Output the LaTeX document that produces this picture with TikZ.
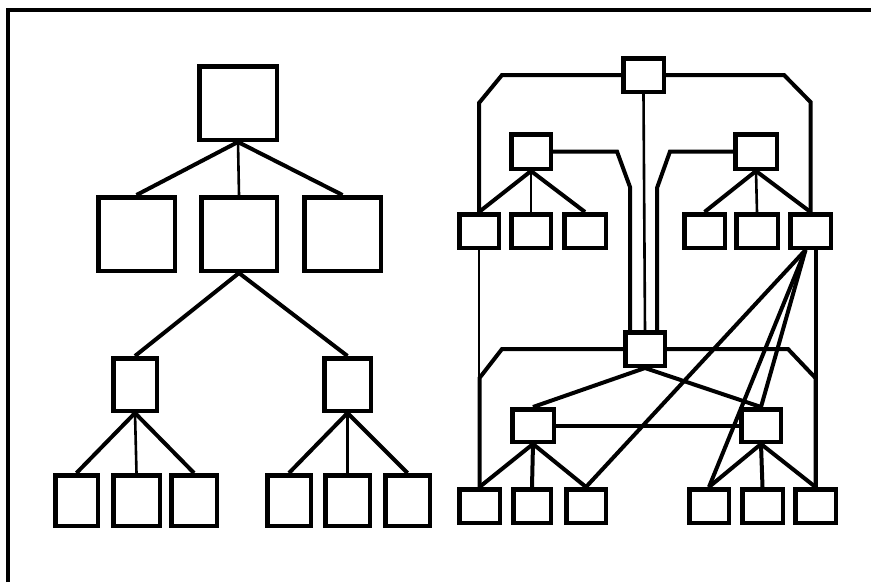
\documentclass[tikz,border=0pt]{standalone}
\begin{document}
\begin{tikzpicture}[x=1pt,y=-1pt,
  bx/.style={draw, line width=4.5pt, inner sep=0pt, rectangle},
  cn/.style={line width=4pt, line join=miter},
  thin/.style={line width=2.6pt},
  frm/.style={line width=3.2pt}]
\useasboundingbox (0,0) rectangle (871,582);
\newcommand{\mybox}[5]{\node[bx, minimum width={(#4-#2)*1pt-4.5pt}, minimum height={(#5-#3)*1pt-4.5pt}] (#1) at ({(#2+#4)/2},{(#3+#5)/2}) {};}
% outer frame (top and left)
\draw[frm] (8,582) -- (8,10) -- (871,10);
% ---------- left tree ----------
\mybox{R}{197}{64}{279}{142}
\mybox{A}{96}{195}{177}{273}
\mybox{B}{199}{195}{279}{273}
\mybox{Cc}{302}{195}{383}{273}
\mybox{P}{111}{356}{159}{413}
\mybox{Q}{322}{356}{373}{413}
\mybox{La}{53}{473}{100}{528}
\mybox{Lb}{111}{473}{162}{528}
\mybox{Lc}{169}{473}{219}{528}
\mybox{Ld}{265}{473}{313}{528}
\mybox{Le}{323}{473}{372}{528}
\mybox{Lf}{383}{473}{432}{528}
\draw[cn] (R.south) -- (A.north);
\draw[thin] (R.south) -- (B.north);
\draw[cn] (R.south) -- (Cc.north);
\draw[cn] (B.south) -- (P.north);
\draw[cn] (B.south) -- (Q.north);
\draw[cn] (P.south) -- (La.north);
\draw[thin] (P.south) -- (Lb.north);
\draw[cn] (P.south) -- (Lc.north);
\draw[cn] (Q.south) -- (Ld.north);
\draw[thin] (Q.south) -- (Le.north);
\draw[cn] (Q.south) -- (Lf.north);
% ---------- right network ----------
\mybox{T}{621}{56}{666}{94}
\mybox{ML}{509}{132}{553}{171}
\mybox{MR}{733}{132}{779}{171}
\mybox{UA}{457}{212}{501}{250}
\mybox{UB}{509}{212}{553}{250}
\mybox{UC}{562}{212}{608}{250}
\mybox{UD}{682}{212}{727}{250}
\mybox{UE}{734}{212}{780}{250}
\mybox{UF}{788}{212}{833}{250}
\mybox{C}{623}{330}{667}{368}
\mybox{LL}{510}{407}{556}{444}
\mybox{LR}{739}{407}{783}{444}
\mybox{BA}{457}{487}{502}{525}
\mybox{BB}{511}{487}{553}{525}
\mybox{BC}{564}{487}{608}{525}
\mybox{BD}{687}{487}{731}{525}
\mybox{BE}{740}{487}{785}{525}
\mybox{BF}{793}{487}{838}{525}
% connectors from top node round the sides
\draw[cn] (T.west) -- (T.west -| 502,0) -- (UA.north |- 0,103) -- (UA.north);
\draw[cn] (T.east) -- (T.east -| 784,0) -- (UF.north |- 0,102) -- (UF.north);
\draw[thin] (T.south) -- (C.north);
% mid nodes to central node
\draw[cn] (ML.east) -- (ML.east -| 617,0) -- (630,187) -- ([xshift=-15pt]C.north);
\draw[cn] (MR.west) -- (MR.west -| 670,0) -- (657,188) -- ([xshift=12pt]C.north);
% central node connectors round the sides
\draw[cn] (C.west) -- (C.west -| 502,0) -- (BA.north |- 0,378) -- (BA.north);
\draw[cn] (C.east) -- (C.east -| 788,0) -- (BF.north |- 0,378) -- (BF.north);
% verticals from upper leaves to lower leaves
\draw[thin] (UA.south) -- (UA.south |- BA.north);
\draw[cn] (UF.south -| BF.north) -- (BF.north);
% upper subtrees
\draw[cn] (ML.south) -- (UA.north);
\draw[thin] (ML.south) -- (UB.north);
\draw[cn] (ML.south) -- (UC.north);
\draw[cn] (MR.south) -- (UD.north);
\draw[thin] (MR.south) -- (UE.north);
\draw[cn] (MR.south) -- (UF.north);
% central to lower mids
\draw[cn] (C.south) -- (LL.north);
\draw[cn] (C.south) -- (LR.north);
\draw[cn] (LL.east) -- (LR.west);
% lower subtrees
\draw[cn] (LL.south) -- (BA.north);
\draw[cn] (LL.south) -- (BB.north);
\draw[cn] (LL.south) -- (BC.north);
\draw[cn] (LR.south) -- (BD.north);
\draw[cn] (LR.south) -- (BE.north);
\draw[cn] (LR.south) -- (BF.north);
% cross links from UF
\draw[cn] ([xshift=-5pt]UF.south) -- (BC.north);
\draw[cn] ([xshift=-5pt]UF.south) -- (BD.north);
\draw[cn] ([xshift=-5pt]UF.south) -- (LR.north);
\end{tikzpicture}
\end{document}
